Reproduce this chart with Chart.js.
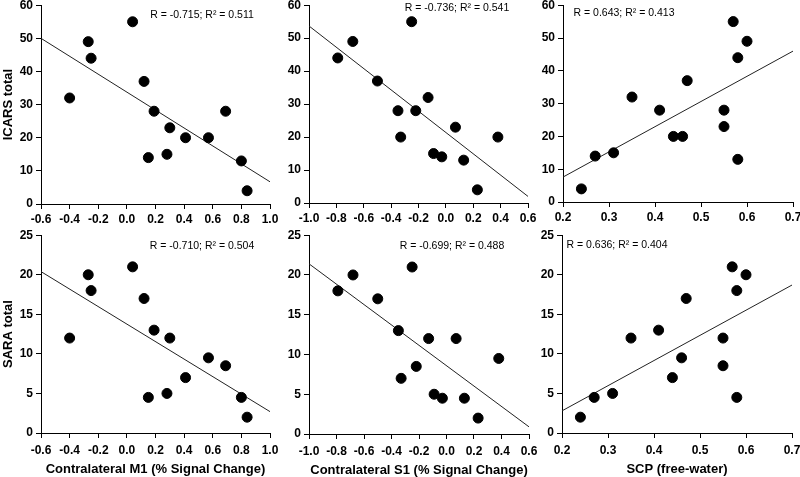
<!DOCTYPE html>
<html>
<head>
<meta charset="utf-8">
<script src="https://cdn.jsdelivr.net/npm/chart.js@4.4.1/dist/chart.umd.min.js"></script>
<style>
  html, body { margin: 0; padding: 0; background: #fff; }
  body { width: 800px; height: 477px; position: relative; overflow: hidden; }
  .panel { position: absolute; }
</style>
</head>
<body>
<div class="panel" id="p1"><canvas id="c1"></canvas></div>
<div class="panel" id="p2"><canvas id="c2"></canvas></div>
<div class="panel" id="p3"><canvas id="c3"></canvas></div>
<div class="panel" id="p4"><canvas id="c4"></canvas></div>
<div class="panel" id="p5"><canvas id="c5"></canvas></div>
<div class="panel" id="p6"><canvas id="c6"></canvas></div>
<script>
// one entry per subject, same order in every array
var m1Change     = [-0.40, -0.27, -0.25, 0.04, 0.12, 0.19, 0.30, 0.15, 0.28, 0.41, 0.57, 0.69, 0.80, 0.84];
var s1Change     = [-0.13, -0.68, -0.79, -0.25, -0.50, -0.35, 0.07, -0.03, -0.09, -0.33, 0.38, -0.22, 0.13, 0.23];
var scpFreeWater = [0.35, 0.60, 0.58, 0.57, 0.47, 0.41, 0.55, 0.27, 0.31, 0.44, 0.46, 0.55, 0.58, 0.24];
var icarsTotal   = [32, 49, 44, 55, 37, 28, 23, 14, 15, 20, 20, 28, 13, 4];
var saraTotal    = [12, 20, 18, 21, 17, 13, 12, 4.5, 5, 7, 9.5, 8.5, 4.5, 2];

// axis ranges (x) and fitted line ends
var m1Range  = [-0.6, 1.0];
var s1Range  = [-1.0, 0.6];
var scpRange = [0.2, 0.7];
var icarsM1Fit  = [50.0, 6.7];
var icarsS1Fit  = [53.7, 2.0];
var icarsScpFit = [7.6, 46.0];
var saraM1Fit   = [20.4, 2.7];
var saraS1Fit   = [21.4, 0.9];
var saraScpFit  = [2.8, 18.7];

var stats = [
  "R = -0.715; R\u00b2 = 0.511", "R = -0.736; R\u00b2 = 0.541", "R = 0.643; R\u00b2 = 0.413",
  "R = -0.710; R\u00b2 = 0.504", "R = -0.699; R\u00b2 = 0.488", "R = 0.636; R\u00b2 = 0.404"
];

var FONT = "'Liberation Sans', Arial, sans-serif";
var YW = 45, PT = 10, PR = 14;

/* draws the R / R² note at an offset from the plot area corner */
var notePlugin = {
  id: "note",
  afterDatasetsDraw: function (chart, args, opts) {
    if (!opts || !opts.text) return;
    var ctx = chart.ctx, a = chart.chartArea;
    ctx.save();
    ctx.font = "10.5px " + FONT;
    ctx.fillStyle = "#000";
    ctx.textAlign = "center";
    ctx.textBaseline = "middle";
    ctx.fillText(opts.text, a.left + opts.dx, a.top + opts.dy);
    ctx.restore();
  }
};

function fmt1(v) {
  if (Math.abs(v) < 1e-9) return "0.0";
  return v.toFixed(1);
}

function panel(n, box, xs, ys, xRange, xStep, yMax, yStep, fit, note, yTitle, xTitle) {
  var xh = xTitle ? 44 : 22;
  var tickPad = xTitle ? 5 : 3;
  var div = document.getElementById("p" + n);
  div.style.left = (box[0] - YW) + "px";
  div.style.top = (box[1] - PT) + "px";
  div.style.width = (box[2] - box[0] + YW + PR) + "px";
  div.style.height = (box[3] - box[1] + PT + xh) + "px";

  var pts = xs.map(function (x, i) { return { x: x, y: ys[i] }; });
  var line = [{ x: xRange[0], y: fit[0] }, { x: xRange[1], y: fit[1] }];

  return new Chart(document.getElementById("c" + n), {
    type: "scatter",
    data: {
      datasets: [
        { data: line, showLine: true, borderColor: "#222", borderWidth: 1, pointRadius: 0, order: 2 },
        { data: pts, backgroundColor: "#000", borderColor: "#000", pointRadius: 5, pointHoverRadius: 5, order: 1 }
      ]
    },
    options: {
      responsive: true,
      maintainAspectRatio: false,
      animation: false,
      events: [],
      layout: { padding: { top: PT, right: PR, left: 0, bottom: 0 } },
      plugins: {
        legend: { display: false },
        tooltip: { enabled: false },
        note: note
      },
      scales: {
        x: {
          type: "linear",
          min: xRange[0], max: xRange[1],
          afterFit: function (s) { s.height = xh; },
          grid: { drawOnChartArea: false, drawTicks: true, tickLength: 5, color: "#000" },
          border: { display: true, color: "#000", width: 1 },
          ticks: {
            stepSize: xStep, padding: tickPad, color: "#000", maxRotation: 0, autoSkip: false,
            font: { family: FONT, size: 12, weight: "bold" },
            callback: function (v) { return fmt1(v); }
          },
          title: {
            display: !!xTitle, text: xTitle || "", color: "#000",
            padding: { top: 4, bottom: 0 },
            font: { family: FONT, size: 13, weight: "bold" }
          }
        },
        y: {
          min: 0, max: yMax,
          afterFit: function (s) { s.width = YW; },
          grid: { drawOnChartArea: false, drawTicks: true, tickLength: 5, color: "#000" },
          border: { display: true, color: "#000", width: 1 },
          ticks: {
            stepSize: yStep, padding: 3, color: "#000",
            font: { family: FONT, size: 12, weight: "bold" }
          },
          title: {
            display: !!yTitle, text: yTitle || "", color: "#000",
            padding: { top: 5, bottom: 0 },
            font: { family: FONT, size: 13, weight: "bold" }
          }
        }
      }
    },
    plugins: [notePlugin]
  });
}

panel(1, [41, 5, 270, 204], m1Change, icarsTotal, m1Range, 0.2, 60, 10, icarsM1Fit,
  { text: stats[0], dx: 161, dy: 9.5 }, "ICARS total", null);
panel(2, [309, 5, 528, 203], s1Change, icarsTotal, s1Range, 0.2, 60, 10, icarsS1Fit,
  { text: stats[1], dx: 148, dy: 2.5 }, null, null);
panel(3, [563, 5, 793, 202], scpFreeWater, icarsTotal, scpRange, 0.1, 60, 10, icarsScpFit,
  { text: stats[2], dx: 61, dy: 7.5 }, null, null);
panel(4, [41, 235, 270, 433], m1Change, saraTotal, m1Range, 0.2, 25, 5, saraM1Fit,
  { text: stats[3], dx: 161, dy: 11 }, "SARA total", "Contralateral M1 (% Signal Change)");
panel(5, [309, 235, 529, 434], s1Change, saraTotal, s1Range, 0.2, 25, 5, saraS1Fit,
  { text: stats[4], dx: 143, dy: 11 }, null, "Contralateral S1 (% Signal Change)");
panel(6, [562, 235, 792, 433], scpFreeWater, saraTotal, scpRange, 0.1, 25, 5, saraScpFit,
  { text: stats[5], dx: 55, dy: 10 }, null, "SCP (free-water)");
</script>
</body>
</html>
